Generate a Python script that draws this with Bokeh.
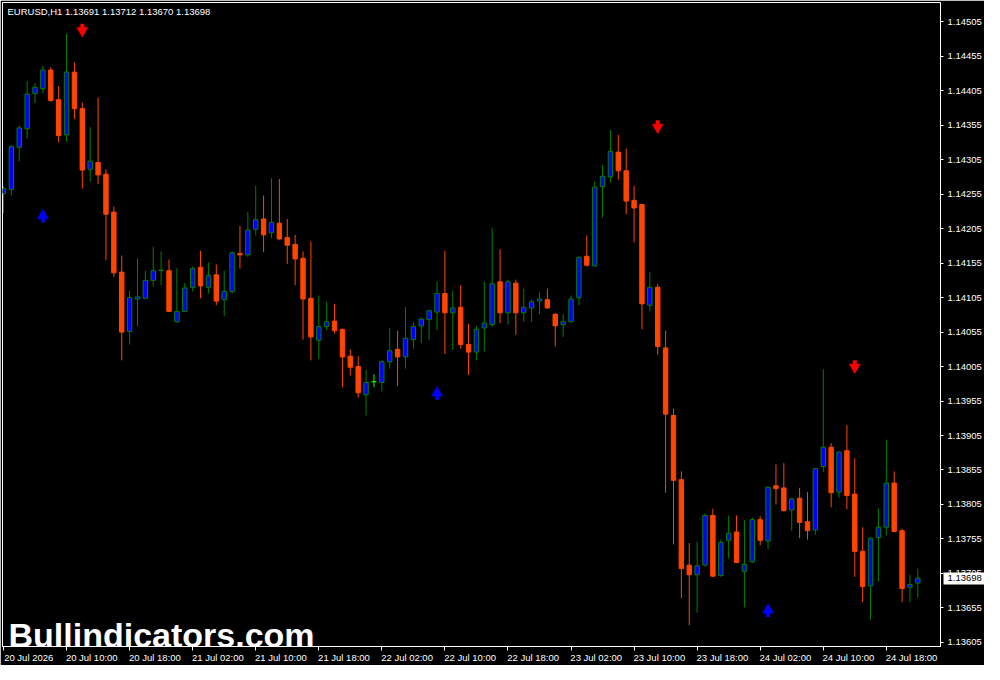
from bokeh.plotting import figure
from bokeh.models import (ColumnDataSource, Range1d, FixedTicker, PrintfTickFormatter, LinearAxis,
                          Label, CustomLabelingPolicy)
from bokeh.embed import file_html
from bokeh.resources import INLINE

symbol = "EURUSD,H1"

opens = [1.14256, 1.14262, 1.14323, 1.14350, 1.14401, 1.14408, 1.14435, 1.14392, 1.14341, 1.14432,
         1.14379, 1.14291, 1.14301, 1.14284, 1.14229, 1.14142, 1.14056, 1.14103, 1.14104, 1.14130,
         1.14144, 1.14144, 1.14070, 1.14085, 1.14120, 1.14149, 1.14120, 1.14138, 1.14102, 1.14114,
         1.14169, 1.14167, 1.14204, 1.14219, 1.14199, 1.14213, 1.14192, 1.14182, 1.14162, 1.14104,
         1.14043, 1.14063, 1.14071, 1.14059, 1.14020, 1.14005, 1.13964, 1.13983, 1.13982, 1.14012,
         1.14030, 1.14019, 1.14044, 1.14064, 1.14073, 1.14084, 1.14111, 1.14083, 1.14091, 1.14037,
         1.14026, 1.14061, 1.14066, 1.14128, 1.14083, 1.14126, 1.14083, 1.14090, 1.14100, 1.14102,
         1.14081, 1.14066, 1.14070, 1.14105, 1.14165, 1.14151, 1.14266, 1.14280, 1.14316, 1.14289,
         1.14246, 1.14240, 1.14094, 1.14120, 1.14032, 1.13934, 1.13841, 1.13717, 1.13703, 1.13717,
         1.13789, 1.13702, 1.13753, 1.13765, 1.13708, 1.13722, 1.13783, 1.13752, 1.13832, 1.13829,
         1.13797, 1.13814, 1.13780, 1.13768, 1.13860, 1.13888, 1.13823, 1.13883, 1.13820, 1.13737,
         1.13687, 1.13757, 1.13772, 1.13836, 1.13767, 1.13685, 1.13691]

highs = [1.14267, 1.14326, 1.14355, 1.14419, 1.14416, 1.14441, 1.14439, 1.14412, 1.14488, 1.14446,
         1.14388, 1.14352, 1.14395, 1.14291, 1.14237, 1.14166, 1.14115, 1.14162, 1.14144, 1.14179,
         1.14172, 1.14160, 1.14148, 1.14126, 1.14150, 1.14173, 1.14156, 1.14153, 1.14144, 1.14172,
         1.14209, 1.14229, 1.14267, 1.14253, 1.14278, 1.14277, 1.14219, 1.14196, 1.14172, 1.14186,
         1.14108, 1.14099, 1.14096, 1.14060, 1.14030, 1.14020, 1.14000, 1.13994, 1.14014, 1.14061,
         1.14057, 1.14091, 1.14069, 1.14076, 1.14087, 1.14128, 1.14173, 1.14115, 1.14123, 1.14067,
         1.14064, 1.14128, 1.14206, 1.14175, 1.14131, 1.14131, 1.14118, 1.14102, 1.14113, 1.14118,
         1.14082, 1.14081, 1.14108, 1.14165, 1.14195, 1.14273, 1.14297, 1.14348, 1.14341, 1.14321,
         1.14267, 1.14241, 1.14142, 1.14125, 1.14057, 1.13944, 1.13853, 1.13749, 1.13751, 1.13792,
         1.13799, 1.13754, 1.13789, 1.13789, 1.13782, 1.13786, 1.13788, 1.13831, 1.13863, 1.13865,
         1.13815, 1.13829, 1.13823, 1.13858, 1.14001, 1.13894, 1.13882, 1.13920, 1.13872, 1.13772,
         1.13757, 1.13799, 1.13899, 1.13853, 1.13770, 1.13703, 1.13712]

lows = [1.14227, 1.14253, 1.14303, 1.14336, 1.14387, 1.14402, 1.14389, 1.14330, 1.14331, 1.14364,
        1.14263, 1.14273, 1.14270, 1.14159, 1.14135, 1.14014, 1.14037, 1.14063, 1.14103, 1.14121,
        1.14123, 1.14084, 1.14069, 1.14084, 1.14114, 1.14104, 1.14111, 1.14094, 1.14078, 1.14111,
        1.14147, 1.14164, 1.14195, 1.14171, 1.14191, 1.14189, 1.14154, 1.14123, 1.14044, 1.14014,
        1.14016, 1.14058, 1.14053, 1.13975, 1.13992, 1.13960, 1.13934, 1.13975, 1.13969, 1.14002,
        1.13977, 1.14002, 1.14031, 1.14039, 1.14044, 1.14058, 1.14023, 1.14029, 1.14031, 1.13993,
        1.14014, 1.14027, 1.14063, 1.14068, 1.14066, 1.14051, 1.14070, 1.14070, 1.14081, 1.14089,
        1.14034, 1.14048, 1.14069, 1.14094, 1.14150, 1.14150, 1.14221, 1.14272, 1.14276, 1.14226,
        1.14185, 1.14059, 1.14085, 1.14022, 1.13822, 1.13747, 1.13669, 1.13630, 1.13648, 1.13715,
        1.13700, 1.13700, 1.13727, 1.13720, 1.13656, 1.13720, 1.13746, 1.13740, 1.13805, 1.13795,
        1.13767, 1.13756, 1.13754, 1.13761, 1.13852, 1.13801, 1.13815, 1.13798, 1.13700, 1.13663,
        1.13638, 1.13693, 1.13760, 1.13765, 1.13663, 1.13663, 1.13670]

closes = [1.14263, 1.14324, 1.14351, 1.14400, 1.14410, 1.14435, 1.14391, 1.14340, 1.14432, 1.14379,
          1.14290, 1.14303, 1.14283, 1.14226, 1.14141, 1.14055, 1.14105, 1.14106, 1.14130, 1.14144,
          1.14145, 1.14085, 1.14085, 1.14119, 1.14147, 1.14122, 1.14137, 1.14100, 1.14114, 1.14170,
          1.14167, 1.14203, 1.14218, 1.14196, 1.14214, 1.14190, 1.14181, 1.14161, 1.14103, 1.14048,
          1.14063, 1.14070, 1.14057, 1.14019, 1.14004, 1.13967, 1.13982, 1.13983, 1.14012, 1.14028,
          1.14019, 1.14046, 1.14063, 1.14074, 1.14086, 1.14111, 1.14083, 1.14090, 1.14037, 1.14026,
          1.14059, 1.14068, 1.14125, 1.14083, 1.14128, 1.14083, 1.14091, 1.14099, 1.14103, 1.14090,
          1.14064, 1.14070, 1.14103, 1.14163, 1.14152, 1.14265, 1.14281, 1.14317, 1.14289, 1.14245,
          1.14235, 1.14096, 1.14120, 1.14034, 1.13936, 1.13840, 1.13712, 1.13703, 1.13716, 1.13789,
          1.13701, 1.13750, 1.13763, 1.13721, 1.13718, 1.13783, 1.13753, 1.13830, 1.13828, 1.13796,
          1.13813, 1.13779, 1.13767, 1.13857, 1.13888, 1.13822, 1.13881, 1.13818, 1.13737, 1.13686,
          1.13756, 1.13772, 1.13836, 1.13766, 1.13683, 1.13689, 1.13698]

sell_bars = [10, 83, 108]
sell_prices = [1.14492, 1.14352, 1.14004]
buy_bars = [5, 55, 97]
buy_prices = [1.14224, 1.13967, 1.13652]

price_ticks = [1.13605, 1.13655, 1.13705, 1.13755, 1.13805, 1.13855, 1.13905, 1.13955, 1.14005,
               1.14055, 1.14105, 1.14155, 1.14205, 1.14255, 1.14305, 1.14355, 1.14405, 1.14455, 1.14505]
time_ticks = [0, 8, 16, 24, 32, 40, 48, 56, 64, 72, 80, 88, 96, 104, 112]
time_labels = ["20 Jul 2026", "20 Jul 10:00", "20 Jul 18:00", "21 Jul 02:00", "21 Jul 10:00",
               "21 Jul 18:00", "22 Jul 02:00", "22 Jul 10:00", "22 Jul 18:00", "23 Jul 02:00",
               "23 Jul 10:00", "23 Jul 18:00", "24 Jul 02:00", "24 Jul 10:00", "24 Jul 18:00"]

watermark = "Bullindicators.com"

BULL_FILL = "#0000FF"
BULL_LINE = "#008000"
BEAR = "#FF4500"
DOJI = "#00FF00"
SELL = "#FF0000"
BUY = "#0000FF"
FONT = "Liberation Sans"

n = len(opens)
bars = list(range(n))
fills, lines, tops, bottoms = [], [], [], []
for o, c in zip(opens, closes):
    tops.append(max(o, c))
    bottoms.append(min(o, c))
    if c > o:
        fills.append(BULL_FILL); lines.append(BULL_LINE)
    elif c < o:
        fills.append(BEAR); lines.append(BEAR)
    else:
        fills.append(DOJI); lines.append(DOJI)

src = ColumnDataSource(dict(x=bars, h=highs, l=lows, top=tops, bottom=bottoms, fill=fills, line=lines))

FW, FH = 938, 644
x0, x1 = -0.125, 118.875
y0, y1 = 1.13599, 1.14533
p = figure(frame_width=FW, frame_height=FH,
           x_range=Range1d(x0, x1), y_range=Range1d(y0, y1),
           y_axis_location="right", output_backend="svg", toolbar_location=None,
           min_border_left=2, min_border_top=2, min_border_right=44, min_border_bottom=0,
           background_fill_color="black", border_fill_color="black",
           outline_line_color="white", outline_line_width=1)
p.grid.visible = False

p.segment(x0="x", y0="l", x1="x", y1="h", line_color="line", line_width=1, source=src)
p.vbar(x="x", top="top", bottom="bottom", width=0.56, fill_color="fill",
       line_color="line", line_width=1, source=src)

# signal arrows: triangular head + short shaft (shaft offset of 4 screen px)
shaft_off = 4 * (y1 - y0) / FH
p.scatter(x=sell_bars, y=sell_prices, marker="inverted_triangle", size=11,
          fill_color=SELL, line_color=SELL, line_width=0.5)
p.rect(x=sell_bars, y=[v + shaft_off for v in sell_prices], width=4, height=6,
       width_units="screen", height_units="screen", fill_color=SELL, line_color=None)
p.scatter(x=buy_bars, y=buy_prices, marker="triangle", size=11,
          fill_color=BUY, line_color=BUY, line_width=0.5)
p.rect(x=buy_bars, y=[v - shaft_off for v in buy_prices], width=4, height=6,
       width_units="screen", height_units="screen", fill_color=BUY, line_color=None)

# right price axis
ya = p.yaxis[0]
ya.ticker = FixedTicker(ticks=price_ticks)
ya.formatter = PrintfTickFormatter(format="%.5f")
ya.axis_line_color = "white"
ya.major_tick_line_color = "white"
ya.major_tick_out = 3
ya.major_tick_in = 0
ya.minor_tick_line_color = None
ya.major_label_text_color = "white"
ya.major_label_text_font = FONT
ya.major_label_text_font_size = "9.5px"
ya.major_label_standoff = 4

# current price box, drawn as a second right axis folded back over the first
pa = LinearAxis(ticker=FixedTicker(ticks=[closes[-1]]), formatter=PrintfTickFormatter(format="%.5f"),
                axis_line_color=None, minor_tick_line_color=None,
                major_tick_line_color="white", major_tick_line_width=12,
                major_tick_in=41, major_tick_out=0, major_label_standoff=-37,
                major_label_text_color="black", major_label_text_font=FONT,
                major_label_text_font_size="9.5px")
p.add_layout(pa, "right")

# bottom time axis: tick marks only
xa = p.xaxis[0]
xa.ticker = FixedTicker(ticks=time_ticks)
xa.axis_line_color = "white"
xa.major_tick_line_color = "white"
xa.major_tick_out = 4
xa.major_tick_in = 0
xa.minor_tick_line_color = None
xa.major_label_text_font_size = "0px"
xa.major_label_standoff = 0
xa.major_label_policy = CustomLabelingPolicy(code="return []")

# bottom time axis: left-aligned labels (shifted range)
shift = 3.2
p.extra_x_ranges = {"labels": Range1d(x0 - shift, x1 - shift)}
xa2 = LinearAxis(x_range_name="labels", ticker=FixedTicker(ticks=time_ticks),
                 major_label_overrides={t: s for t, s in zip(time_ticks, time_labels)},
                 axis_line_color=None, major_tick_line_color=None, minor_tick_line_color=None,
                 major_tick_out=0, major_tick_in=0, major_label_standoff=1,
                 major_label_text_color="white", major_label_text_font=FONT,
                 major_label_text_font_size="9.5px")
p.add_layout(xa2, "below")

title_text = f"{symbol}  {opens[-1]:.5f} {highs[-1]:.5f} {lows[-1]:.5f} {closes[-1]:.5f}"
p.add_layout(Label(x=5, y=FH - 9, x_units="screen", y_units="screen", text=title_text,
                   text_color="white", text_font=FONT, text_font_size="9.5px",
                   text_baseline="middle", text_align="left"))

p.add_layout(Label(x=6, y=12, x_units="screen", y_units="screen", text=watermark,
                   text_color="white", text_font=FONT, text_font_style="bold",
                   text_font_size="34px", text_baseline="alphabetic", text_align="left"))

open("out.html", "w").write(file_html(p, INLINE))
